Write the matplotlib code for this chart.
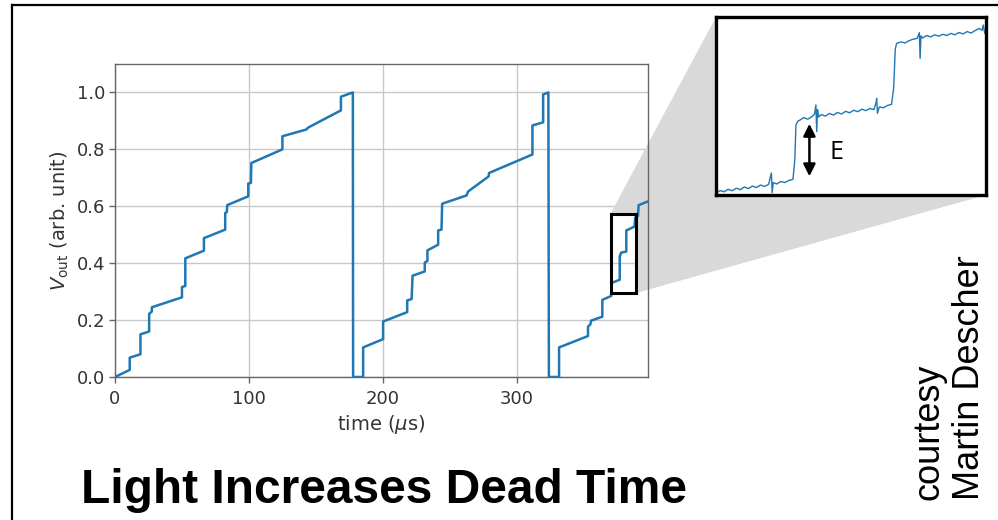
import numpy as np
import matplotlib
matplotlib.use("Agg")
import matplotlib.pyplot as plt
from matplotlib.patches import Rectangle, Polygon
from matplotlib.lines import Line2D

# --- main trace: vertices (time in us, Vout) ---
t = [0, 11, 11, 19, 19, 25.5, 25.5, 27.5, 27.5, 50, 50, 52.5, 52.5, 66.4, 66.4,
     82.3, 82.3, 83.5, 83.8, 99.5, 99.5, 101.5, 101.8, 125, 125, 143, 144,
     168.7, 168.7, 177.6, 177.8, 185.3, 185.3,
     200.2, 200.2, 218.2, 218.2, 221.5, 222.2, 231.3, 231.3, 233.3, 233.3,
     241.3, 241.3, 243.8, 244.3, 262.5, 263.7, 279, 279.3, 311.7, 311.7,
     319.7, 319.7, 323.6, 324.0, 331.6, 331.6,
     353.2, 353.2, 355, 355.5, 363.9, 363.9, 370.6, 370.6, 376.9, 376.9,
     378, 381.8, 381.8, 388, 388.4, 390.5, 391, 398]
v = [0, 0.025, 0.068, 0.08, 0.15, 0.16, 0.222, 0.23, 0.245, 0.28, 0.316, 0.32,
     0.417, 0.444, 0.488, 0.518, 0.576, 0.58, 0.604, 0.635, 0.68, 0.682, 0.752,
     0.80, 0.846, 0.87, 0.876, 0.937, 0.985, 1.0, 0.0, 0.0, 0.104,
     0.133, 0.195, 0.228, 0.269, 0.274, 0.356, 0.371, 0.402, 0.408, 0.445,
     0.465, 0.515, 0.518, 0.609, 0.638, 0.652, 0.705, 0.717, 0.782, 0.884,
     0.895, 0.993, 1.0, 0.0, 0.0, 0.104,
     0.144, 0.177, 0.185, 0.198, 0.212, 0.271, 0.285, 0.33, 0.342, 0.424,
     0.437, 0.441, 0.515, 0.529, 0.56, 0.566, 0.604, 0.617]

zoom_box = (370, 0.295, 19, 0.279)  # x, y, width, height (data units)

# --- inset trace (arbitrary 0-100 units) ---
ins_x = [0, 1.5, 3, 4.5, 6, 7.5, 9, 10.5, 12, 13.5, 15, 16.5, 18, 19.5, 20.5, 20.8,
         21.2, 22.5, 24, 25.5, 27, 28.5,
         29.2, 29.6, 30.3, 31.1,
         32.5, 34, 35.5, 36.5, 37.0, 37.3, 37.6, 38, 39, 40.5, 42, 43.5, 45, 46.5,
         48, 49.5, 51, 52.5, 54, 55.5, 57, 58.5, 59.3, 59.5, 59.8, 60.5, 62, 63.5, 65,
         65.8, 66.4, 66.9,
         68.5, 70, 71.5, 73, 74.5, 75.3, 75.6, 75.9, 76.5, 78, 79.5, 81, 82.5, 84,
         85.5, 87, 88.5, 90, 91.5, 93, 94.5, 96, 97.5, 98.5, 99, 99.5]
ins_y = [1.0, 2.5, 1.8, 3.2, 2.4, 3.8, 3.0, 4.5, 3.6, 5.0, 4.2, 5.6, 4.8, 6.0, 12.4, 1.3,
         7.0, 6.2, 7.6, 7.0, 8.2, 8.8,
         20, 39.3, 41.5, 42.1,
         43.5, 42.6, 44.0, 45.5, 50.6, 35.6, 48.0, 43.8, 45.2, 44.3, 45.8, 44.9, 46.4, 45.5,
         47.0, 46.2, 47.6, 46.8, 48.2, 47.4, 48.6, 48.0, 52.0, 54.3, 45.9, 49.5, 49.0, 50.3, 50.9,
         60, 82, 85.2,
         86.0, 85.4, 86.7, 87.5, 88.0, 91.2, 76.8, 89.5, 88.2, 89.6, 88.8, 90.0, 89.2, 90.3,
         89.6, 90.8, 90.0, 91.3, 90.5, 91.8, 91.0, 92.4, 93.6, 92.5, 95.5, 91.0]

blue = "#1f77b4"
grey = "#666666"
txt = "#333333"

fig = plt.figure(figsize=(9.98, 5.2), dpi=100)
W, H = 998, 520

ax = fig.add_axes([115 / W, 1 - 377 / H, 533 / W, 313 / H])
ax.plot(t, v, color=blue, lw=1.8, zorder=3)
ax.set_xlim(0, 398)
ax.set_ylim(0, 1.1)
ax.set_xticks([0, 100, 200, 300])
ax.set_yticks([0, 0.2, 0.4, 0.6, 0.8, 1.0])
ax.set_yticklabels(["0.0", "0.2", "0.4", "0.6", "0.8", "1.0"])
ax.grid(True, color="#c8c8c8", lw=1.0)
ax.set_axisbelow(True)
for s in ax.spines.values():
    s.set_color(grey)
    s.set_linewidth(1.0)
ax.tick_params(colors=grey, labelcolor=txt, labelsize=13, length=4, width=1, pad=3)
ax.tick_params(axis="x", pad=5)
ax.set_xlabel(r"time ($\mu$s)", fontsize=14, color=txt, labelpad=4)
ax.set_ylabel(r"$V_{\rm out}$ (arb. unit)", fontsize=14, color=txt, labelpad=4)

bx, by, bw, bh = zoom_box
ax.add_patch(Rectangle((bx, by), bw, bh, fill=False, ec="black", lw=2.2, zorder=4))

# inset axes
ins_l, ins_t, ins_r, ins_b = 716, 17, 986, 195
axi = fig.add_axes([ins_l / W, 1 - ins_b / H, (ins_r - ins_l) / W, (ins_b - ins_t) / H])
axi.plot(ins_x, ins_y, color=blue, lw=1.0)
axi.set_xlim(0, 100)
axi.set_ylim(0, 100)
axi.set_xticks([])
axi.set_yticks([])
for s in axi.spines.values():
    s.set_color("black")
    s.set_linewidth(2.4)
axi.annotate("", xy=(34.6, 40), xytext=(34.6, 10.5),
             arrowprops=dict(arrowstyle="<|-|>", color="black", lw=1.8,
                             mutation_scale=18, shrinkA=0, shrinkB=0))
axi.text(42, 24, "E", fontsize=18, family="Open Sans", va="center", ha="left")

# grey wedge linking box to inset
fig.canvas.draw()
to_fig = fig.transFigure.inverted()
tl = to_fig.transform(ax.transData.transform((bx, by + bh)))
tr = to_fig.transform(ax.transData.transform((bx + bw, by + bh)))
br = to_fig.transform(ax.transData.transform((bx + bw, by)))
wedge = [tl, (ins_l / W, 1 - ins_t / H), (ins_r / W, 1 - ins_t / H),
         (ins_r / W, 1 - ins_b / H), br, tr]
ax.add_patch(Polygon(wedge, closed=True, transform=fig.transFigure, fc="#d9d9d9",
                     ec="none", clip_on=False, zorder=1))

# slide frame lines
fig.add_artist(Line2D([11.5 / W, 1], [1 - 4.5 / H] * 2, color="black", lw=1.6))
fig.add_artist(Line2D([11.5 / W] * 2, [0, 1 - 4.5 / H], color="black", lw=1.6))

fig.text(384 / W, 1 - 503 / H, "Light Increases Dead Time", ha="center", va="baseline",
         fontsize=34.5, fontweight="bold", family="Liberation Sans")
fig.text(949 / W, 1 - 500 / H, "courtesy\nMartin Descher", rotation=90, ha="center",
         va="bottom", multialignment="left", fontsize=26, family="Liberation Sans",
         linespacing=1.2)

fig.savefig("out.png", dpi=100)
